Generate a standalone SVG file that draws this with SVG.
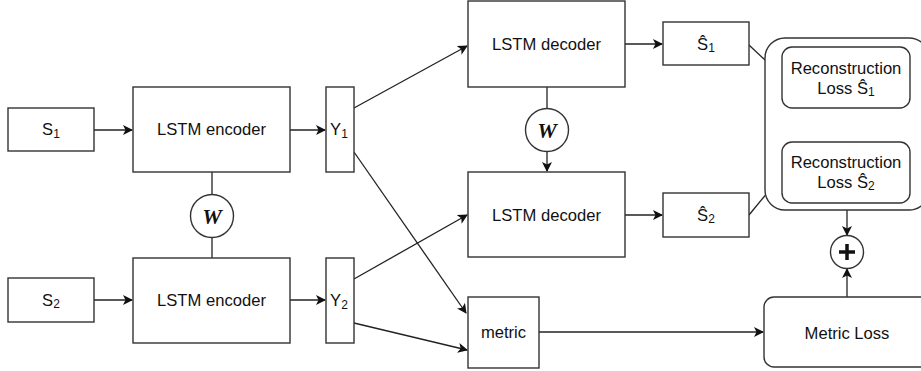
<svg xmlns="http://www.w3.org/2000/svg" width="921" height="371" viewBox="0 0 921 371">
<style>
.box{fill:#fff;stroke:#333;stroke-width:1.4}
.t{font-family:"Liberation Sans",Arial,sans-serif;font-size:16.6px;fill:#111;text-anchor:middle;dominant-baseline:central}
.w{font-family:"Liberation Serif","Times New Roman",serif;font-style:italic;font-weight:bold;font-size:22px;fill:#111;text-anchor:middle;dominant-baseline:central}
.c{fill:none;stroke:#222;stroke-width:1.3}
</style>
<defs>
<marker id="ah" viewBox="0 0 10 10" refX="9" refY="5" markerWidth="10" markerHeight="10" markerUnits="userSpaceOnUse" orient="auto">
<path d="M0,0 L10,5 L0,10 L2.5,5 Z" fill="#111"/>
</marker>
</defs>
<g id="connectors">
<line class="c" x1="94" y1="130" x2="132" y2="130" marker-end="url(#ah)"/>
<line class="c" x1="290" y1="130" x2="325" y2="130" marker-end="url(#ah)"/>
<line class="c" x1="94" y1="300" x2="132" y2="300" marker-end="url(#ah)"/>
<line class="c" x1="290" y1="300" x2="325" y2="300" marker-end="url(#ah)"/>
<line class="c" x1="212" y1="172" x2="212" y2="194.5"/>
<line class="c" x1="212" y1="237.5" x2="212" y2="258"/>
<line class="c" x1="354" y1="108" x2="467" y2="46" marker-end="url(#ah)"/>
<line class="c" x1="354" y1="152" x2="466" y2="313" marker-end="url(#ah)"/>
<line class="c" x1="354" y1="279" x2="467" y2="215" marker-end="url(#ah)"/>
<line class="c" x1="354" y1="323" x2="467" y2="350" marker-end="url(#ah)"/>
<line class="c" x1="547" y1="87" x2="547" y2="108.5"/>
<line class="c" x1="547" y1="151.5" x2="547" y2="171" marker-end="url(#ah)"/>
<line class="c" x1="625" y1="44" x2="662" y2="44" marker-end="url(#ah)"/>
<line class="c" x1="625" y1="215" x2="662" y2="215" marker-end="url(#ah)"/>
<line class="c" x1="749" y1="45" x2="781" y2="75" marker-end="url(#ah)"/>
<line class="c" x1="749" y1="215" x2="782" y2="175" marker-end="url(#ah)"/>
<line class="c" x1="539" y1="332" x2="763" y2="332" marker-end="url(#ah)"/>
<line class="c" x1="847" y1="210" x2="847" y2="235" marker-end="url(#ah)"/>
<line class="c" x1="847" y1="297" x2="847" y2="269" marker-end="url(#ah)"/>
</g>
<g id="s1"><rect class="box" x="8" y="108" width="86" height="43"/><text class="t" x="51" y="129.5">S<tspan font-size="12" dy="4">1</tspan></text></g>
<g id="s2"><rect class="box" x="8" y="278" width="86" height="44"/><text class="t" x="51" y="300">S<tspan font-size="12" dy="4">2</tspan></text></g>
<g id="enc1"><rect class="box" x="133" y="87" width="157" height="85"/><text class="t" x="211.5" y="129.5">LSTM encoder</text></g>
<g id="enc2"><rect class="box" x="133" y="258" width="157" height="85"/><text class="t" x="211.5" y="300.5">LSTM encoder</text></g>
<g id="w1"><circle class="box" cx="212" cy="216" r="21.5"/><text class="w" x="212" y="216">W</text></g>
<g id="y1"><rect class="box" x="326" y="87" width="28" height="85"/><text class="t" x="339" y="129.5">Y<tspan font-size="12" dy="4">1</tspan></text></g>
<g id="y2"><rect class="box" x="326" y="258" width="28" height="85"/><text class="t" x="339" y="300.5">Y<tspan font-size="12" dy="4">2</tspan></text></g>
<g id="dec1"><rect class="box" x="468" y="1" width="157" height="86"/><text class="t" x="546.5" y="44">LSTM decoder</text></g>
<g id="dec2"><rect class="box" x="468" y="172" width="157" height="85"/><text class="t" x="546.5" y="215">LSTM decoder</text></g>
<g id="w2"><circle class="box" cx="547" cy="130" r="21.5"/><text class="w" x="547" y="130">W</text></g>
<g id="metric"><rect class="box" x="468" y="297" width="71" height="71"/><text class="t" x="503.5" y="332.5">metric</text></g>
<g id="sh1"><rect class="box" x="663" y="22" width="86" height="43"/><text class="t" x="706" y="44">Ŝ<tspan font-size="12" dy="4">1</tspan></text></g>
<g id="sh2"><rect class="box" x="663" y="193" width="86" height="44"/><text class="t" x="706" y="215">Ŝ<tspan font-size="12" dy="4">2</tspan></text></g>
<g id="container"><rect class="box" x="765" y="38" width="164" height="172" rx="20"/></g>
<g id="rl1"><rect class="box" x="782" y="47" width="128" height="61" rx="10"/><text class="t" x="846" y="68">Reconstruction</text><text class="t" x="846" y="88">Loss Ŝ<tspan font-size="12" dy="4">1</tspan></text></g>
<g id="rl2"><rect class="box" x="782" y="142" width="128" height="61" rx="10"/><text class="t" x="846" y="162">Reconstruction</text><text class="t" x="846" y="182">Loss Ŝ<tspan font-size="12" dy="4">2</tspan></text></g>
<g id="plus"><circle class="box" cx="847" cy="252" r="16.5"/><path d="M847,244 V260 M839,252 H855" stroke="#111" stroke-width="3.5" fill="none"/></g>
<g id="metricloss"><rect class="box" x="764" y="297" width="166" height="70" rx="10"/><text class="t" x="847" y="333">Metric Loss</text></g>
</svg>
